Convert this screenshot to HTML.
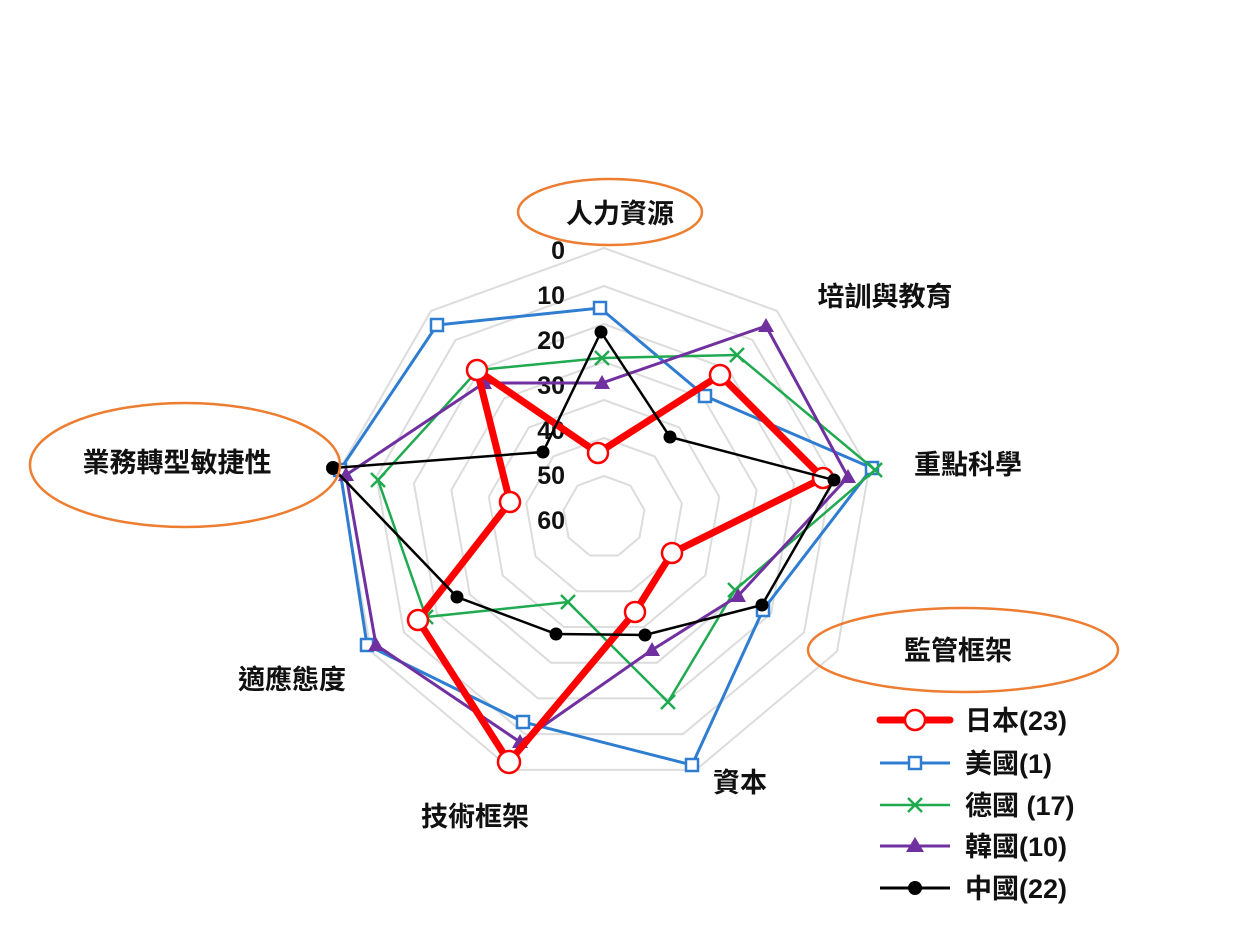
<!DOCTYPE html>
<html><head><meta charset="utf-8"><style>
html,body{margin:0;padding:0;background:#fff;}
svg{display:block;}
text{font-family:"Liberation Sans","Noto Sans CJK TC",sans-serif;fill:#111;font-weight:bold;}
</style></head><body>
<svg width="1239" height="928" viewBox="0 0 1239 928" xmlns="http://www.w3.org/2000/svg">
<defs>
<polygon id="g9" points="0,-100 64.3,-76.6 98.5,-17.4 86.6,50 34.2,94 -34.2,94 -86.6,50 -98.5,-17.4 -64.3,-76.6" fill="none" stroke="#dcdcdc" stroke-width="2" vector-effect="non-scaling-stroke"/>
</defs>
<g transform="translate(604,517)">
<use href="#g9" transform="scale(2.69)"/>
<use href="#g9" transform="scale(2.31)"/>
<use href="#g9" transform="scale(1.93)"/>
<use href="#g9" transform="scale(1.55)"/>
<use href="#g9" transform="scale(1.17)"/>
<use href="#g9" transform="scale(0.79)"/>
<use href="#g9" transform="scale(0.41)"/>
</g>
<g font-size="25" text-anchor="end">
<text x="565" y="259">0</text>
<text x="565" y="304">10</text>
<text x="565" y="349">20</text>
<text x="565" y="394">30</text>
<text x="565" y="439">40</text>
<text x="565" y="484">50</text>
<text x="565" y="529">60</text>
</g>
<polygon points="600,308 705,396 872,468 763,610 692,765 523,722 367,645 340,470 437,325" fill="none" stroke="#2e7dd1" stroke-width="3"/>
<g fill="#fff" stroke="#2e7dd1" stroke-width="2.5">
<rect x="594" y="302" width="12" height="12"/><rect x="699" y="390" width="12" height="12"/><rect x="866" y="462" width="12" height="12"/><rect x="757" y="604" width="12" height="12"/><rect x="686" y="759" width="12" height="12"/><rect x="517" y="716" width="12" height="12"/><rect x="361" y="639" width="12" height="12"/><rect x="334" y="464" width="12" height="12"/><rect x="431" y="319" width="12" height="12"/>
</g>
<polygon points="602,358 737,355 875,470 735,590 668,702 568,602 426,617 378,480 478,370" fill="none" stroke="#1faa50" stroke-width="2.5"/>
<g stroke="#1faa50" stroke-width="2.5">
<path d="M595,351l14,14M609,351l-14,14 M730,348l14,14M744,348l-14,14 M868,463l14,14M882,463l-14,14 M728,583l14,14M742,583l-14,14 M661,695l14,14M675,695l-14,14 M561,595l14,14M575,595l-14,14 M419,610l14,14M433,610l-14,14 M371,473l14,14M385,473l-14,14 M471,363l14,14M485,363l-14,14"/>
</g>
<polygon points="602,383 766,326 848,477 738,596 652,650 520,742 376,645 346,475 484,383" fill="none" stroke="#7030a0" stroke-width="3"/>
<g fill="#7030a0">
<path d="M602,375l8,14h-16z M766,318l8,14h-16z M848,469l8,14h-16z M738,588l8,14h-16z M652,642l8,14h-16z M520,734l8,14h-16z M376,637l8,14h-16z M346,467l8,14h-16z M484,375l8,14h-16z"/>
</g>
<polygon points="598,453 720,375 823,478 672,553 635,612 509,762 418,620 510,502 477,370" fill="none" stroke="#ff0000" stroke-width="7" stroke-linejoin="round"/>
<g fill="#fff" stroke="#ff0000" stroke-width="2.5">
<circle cx="598" cy="453" r="10"/><circle cx="720" cy="375" r="10"/><circle cx="823" cy="478" r="10"/><circle cx="672" cy="553" r="10"/><circle cx="635" cy="612" r="10"/><circle cx="509" cy="762" r="11"/><circle cx="418" cy="620" r="10"/><circle cx="510" cy="502" r="10"/><circle cx="477" cy="370" r="10"/>
</g>
<polygon points="601,332 670,437 834,480 762,605 645,635 556,634 457,597 333,468 543,452" fill="none" stroke="#000" stroke-width="2.5"/>
<g fill="#000">
<circle cx="601" cy="332" r="6.5"/><circle cx="670" cy="437" r="6.5"/><circle cx="834" cy="480" r="6.5"/><circle cx="762" cy="605" r="6.5"/><circle cx="645" cy="635" r="6.5"/><circle cx="556" cy="634" r="6.5"/><circle cx="457" cy="597" r="6.5"/><circle cx="333" cy="468" r="7"/><circle cx="543" cy="452" r="6.5"/>
</g>
<g fill="none" stroke="#ed7d31" stroke-width="2.5">
<ellipse cx="610" cy="212" rx="92" ry="33"/>
<ellipse cx="185" cy="465" rx="155" ry="62"/>
<ellipse cx="963" cy="650" rx="155" ry="42"/>
</g>
<g font-size="27" text-anchor="middle">
<text x="620" y="223">人力資源</text>
<text x="885" y="306">培訓與教育</text>
<text x="968" y="474">重點科學</text>
<text x="958" y="660">監管框架</text>
<text x="740" y="792">資本</text>
<text x="475" y="826">技術框架</text>
<text x="292" y="689">適應態度</text>
<text x="177" y="472">業務轉型敏捷性</text>
</g>
<line x1="880" y1="720" x2="950" y2="720" stroke="#ff0000" stroke-width="7" stroke-linecap="round"/>
<circle cx="915" cy="720" r="10" fill="#fff" stroke="#ff0000" stroke-width="2.5"/>
<line x1="880" y1="763" x2="950" y2="763" stroke="#2e7dd1" stroke-width="3"/>
<rect x="909" y="757" width="12" height="12" fill="#fff" stroke="#2e7dd1" stroke-width="2.5"/>
<line x1="880" y1="805" x2="950" y2="805" stroke="#1faa50" stroke-width="2.5"/>
<path d="M908,798l14,14M922,798l-14,14" stroke="#1faa50" stroke-width="2.5"/>
<line x1="880" y1="846" x2="950" y2="846" stroke="#7030a0" stroke-width="3"/>
<path d="M915,837l9,15h-18z" fill="#7030a0"/>
<line x1="880" y1="888" x2="950" y2="888" stroke="#000" stroke-width="3"/>
<circle cx="915" cy="888" r="7" fill="#000"/>
<g font-size="27">
<text x="965" y="730">日本(23)</text>
<text x="965" y="773">美國(1)</text>
<text x="965" y="815">德國 (17)</text>
<text x="965" y="856">韓國(10)</text>
<text x="965" y="898">中國(22)</text>
</g>
</svg>
</body></html>
